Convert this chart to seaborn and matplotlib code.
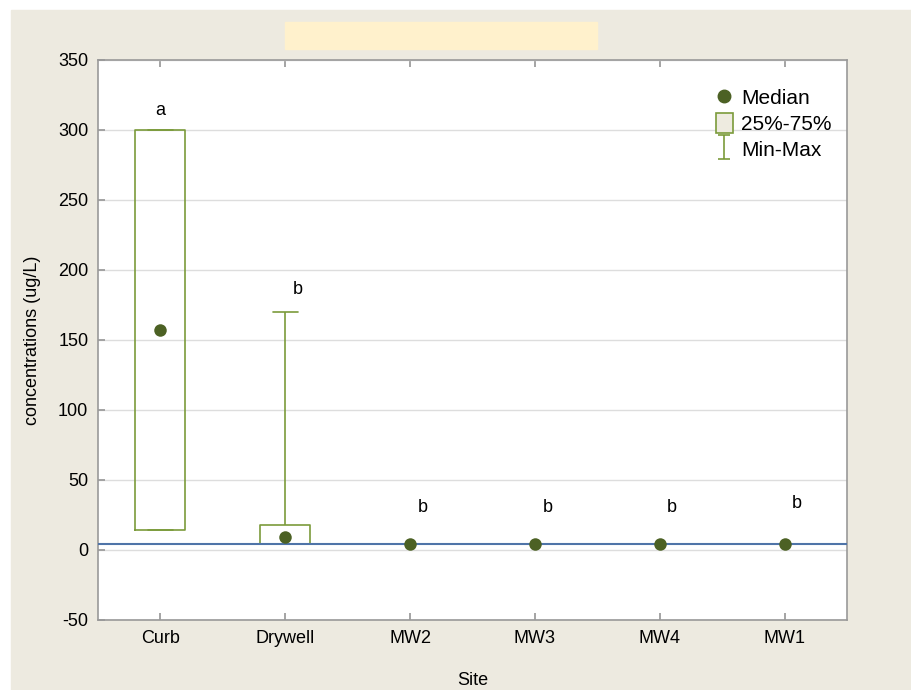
import numpy as np
import pandas as pd
import seaborn as sns
import matplotlib.pyplot as plt
from matplotlib.patches import Rectangle, Patch
from matplotlib.lines import Line2D
from matplotlib.path import Path

sns.set_theme(style="white")
plt.rcParams['font.family'] = ['Liberation Sans', 'DejaVu Sans']
plt.rcParams['axes.unicode_minus'] = False
plt.rcParams['text.color'] = 'black'
plt.rcParams['axes.labelcolor'] = 'black'

# Data (ug/L)
sites = ['Curb', 'Drywell', 'MW2', 'MW3', 'MW4', 'MW1']
min_vals = [14.3, 4.3, 4.3, 4.3, 4.3, 4.3]
q1_vals = [14.3, 4.3, 4.3, 4.3, 4.3, 4.3]
median_vals = [157.0, 9.3, 4.3, 4.3, 4.3, 4.3]
q3_vals = [300.0, 18.0, 4.3, 4.3, 4.3, 4.3]
max_vals = [300.0, 170.0, 4.3, 4.3, 4.3, 4.3]
letters = ['a', 'b', 'b', 'b', 'b', 'b']
letter_y = [314, 186, 30, 30, 30, 33]
detection_limit = 4.3

BOX_COLOR = '#7B9B3B'
MED_COLOR = '#4C6124'
LINE_COLOR = '#4F74A8'

# Five summary values per site -> linear quantiles give exactly q1/median/q3
rows = []
for s, a, b, c, d, e in zip(sites, min_vals, q1_vals, median_vals, q3_vals, max_vals):
    for v in (a, b, c, d, e):
        rows.append({'site': s, 'value': v})
df = pd.DataFrame(rows)
df_med = pd.DataFrame({'site': sites, 'value': median_vals})

fig = plt.figure(figsize=(9.11, 6.9), dpi=100, facecolor='white')
fig.patches.append(Rectangle((11 / 911, 0), 1 - 11 / 911, 680 / 690,
                             transform=fig.transFigure, color='#EDEAE0', zorder=-2))
fig.patches.append(Rectangle((285 / 911, (690 - 49) / 690), 312 / 911, 27 / 690,
                             transform=fig.transFigure, color='#FFF1CC', zorder=-1))

ax = fig.add_axes([98 / 911, 70 / 690, 749 / 911, 560 / 690])
ax.set_facecolor('white')

sns.boxplot(data=df, x='site', y='value', order=sites, whis=(0, 100),
            width=0.4, fill=False, color=BOX_COLOR, linewidth=1.2,
            showfliers=False, medianprops={'visible': False}, ax=ax)
sns.stripplot(data=df_med, x='site', y='value', order=sites, jitter=False,
              color=MED_COLOR, size=9, linewidth=0, ax=ax, zorder=5)

ax.axhline(detection_limit, color=LINE_COLOR, linewidth=1.5, zorder=4)

for i, (lt, ly) in enumerate(zip(letters, letter_y)):
    ax.text(i + 0.1 if i > 0 else i, ly, lt, ha='center', va='center', fontsize=13)

ax.set_ylim(-50, 350)
ax.set_xlim(-0.5, 5.5)
ax.set_yticks(np.arange(-50, 351, 50))
ax.yaxis.grid(True, color='#DDDDDD', linewidth=1)
ax.set_axisbelow(True)
ax.tick_params(axis='both', direction='in', length=5, color='#999999',
               labelcolor='black', labelsize=13, pad=7, top=True, bottom=True, left=True)
for sp in ax.spines.values():
    sp.set_color('#999999')
    sp.set_linewidth(1.2)

ax.set_xlabel('Site', fontsize=13, labelpad=18)
ax.set_ylabel('concentrations (ug/L)', fontsize=13, labelpad=12)

# I-beam marker for Min-Max
ibeam = Path([(-0.5, -1), (0.5, -1), (0, -1), (0, 1), (-0.5, 1), (0.5, 1)],
             [Path.MOVETO, Path.LINETO, Path.MOVETO, Path.LINETO, Path.MOVETO, Path.LINETO])
handles = [
    Line2D([], [], linestyle='none', marker='o', markersize=9,
           markerfacecolor=MED_COLOR, markeredgecolor=MED_COLOR),
    Patch(facecolor='#EEEBE0', edgecolor=BOX_COLOR, linewidth=1.2),
    Line2D([], [], linestyle='none', marker=ibeam, markersize=17,
           markeredgecolor=BOX_COLOR, markerfacecolor='none', markeredgewidth=1.2),
]
leg = ax.legend(handles, ['Median', '25%-75%', 'Min-Max'], loc='upper left',
                bbox_to_anchor=(0.80, 0.985), frameon=False, fontsize=15,
                handlelength=0.8, handleheight=1.1, handletextpad=0.4, labelspacing=0.22)

fig.savefig('out.png', dpi=100, facecolor='white')
